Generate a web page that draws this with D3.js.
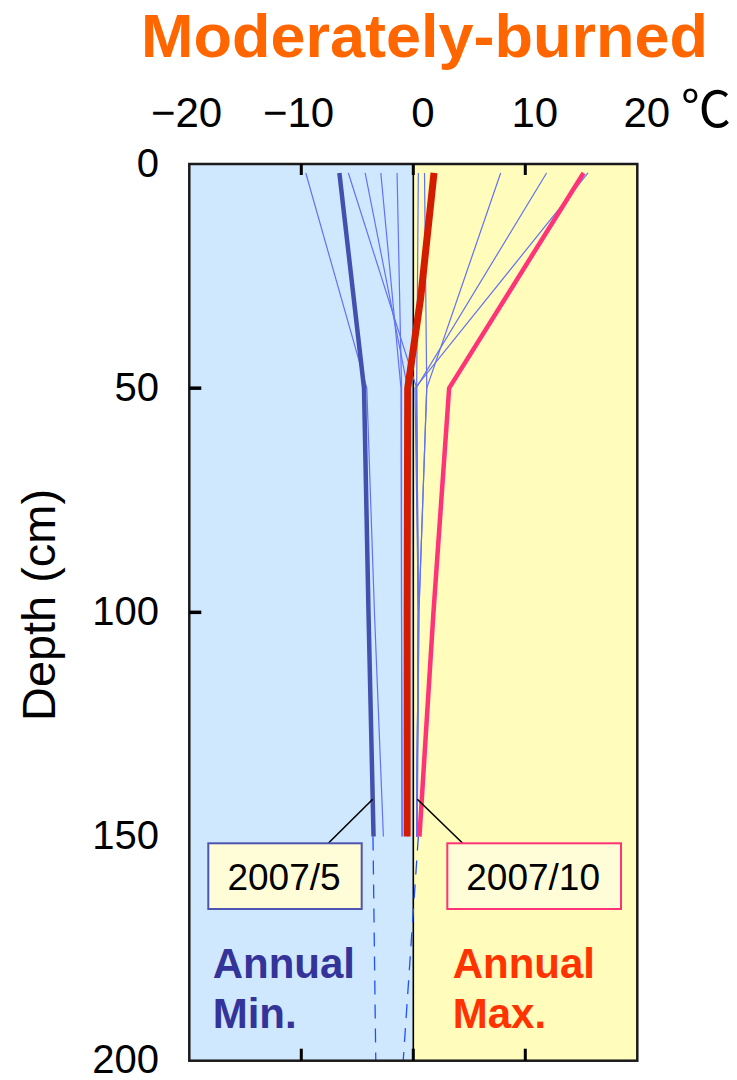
<!DOCTYPE html>
<html>
<head>
<meta charset="utf-8">
<script src="https://cdn.jsdelivr.net/npm/d3@7"></script>
<style>
  body { margin: 0; background: #fff; }
  svg { display: block; font-family: "Liberation Sans", Arial, sans-serif; }
</style>
</head>
<body>
<div id="chart"></div>
<script>
// monthly profiles (temperature °C at each depth)
const depths = [2, 50, 100, 150];
const monthlyTemps = [
  [-9.6, -4.15, -3.47, -2.67],
  [-5.8, 0.3, 0.45, 0.3],
  [-4.3, -0.5, -0.55, -0.5],
  [-2.9, -1.1, -1.05, -1.0],
  [-1.45, -1.05, -1.05, -1.0],
  [0.45, 0.3, 0.45, 0.3],
  [1.0, 1.2, 0.5, 0.3],
  [7.8, 1.2, 0.5, 0.35],
  [11.9, 0.25, 0.45, 0.3],
  [15.6, 0.15, 0.45, 0.3]
];

// annual min (2007/5)
const minDepths = [2, 50, 100, 150];
const minTemps = [-6.6, -4.4, -4.0, -3.55];
// annual max
const maxDepths = [2, 50, 100, 150];
const maxTemps = [15.2, 3.2, 1.8, 0.55];
// 2007/10
const octDepths = [2, 30, 50, 100, 150];
const octTemps = [1.85, 0.65, -0.5, -0.55, -0.55];

// extrapolated (dashed) below 150 cm
const extDepths = [150, 200];
const minExt = [-3.6, -3.35];
const maxExt = [0.45, -0.9];

const xTicks = [-20, -10, 0, 10, 20];
const yTicks = [0, 50, 100, 150, 200];
const innerXTicks = [-10, 0, 10];
const innerYTicks = [50, 100];

const W = 737, H = 1080;

const x = d3.scaleLinear().domain([-20, 20]).range([189.3, 637.3]);
const y = d3.scaleLinear().domain([0, 200]).range([164, 1060.7]);

const svg = d3.select("#chart").append("svg")
  .attr("width", W)
  .attr("height", H);

svg.append("defs").append("clipPath")
  .attr("id", "plotclip")
  .append("rect")
  .attr("x", x(-20)).attr("y", y(0))
  .attr("width", x(20) - x(-20)).attr("height", y(200) - y(0));

// backgrounds
svg.append("rect")
  .attr("x", x(-20)).attr("y", y(0))
  .attr("width", x(0) - x(-20)).attr("height", y(200) - y(0))
  .attr("fill", "#d0e8fe");
svg.append("rect")
  .attr("x", x(0)).attr("y", y(0))
  .attr("width", x(20) - x(0)).attr("height", y(200) - y(0))
  .attr("fill", "#fffcbc");

// zero line
svg.append("line")
  .attr("x1", x(0)).attr("x2", x(0))
  .attr("y1", y(0)).attr("y2", y(200))
  .attr("stroke", "#000")
  .attr("stroke-width", 1.6);

const plot = svg.append("g").attr("clip-path", "url(#plotclip)");

const line = d3.line()
  .x(d => x(d[1]))
  .y(d => y(d[0]));

const pairs = (ds, ts) => ds.map((d, i) => [d, ts[i]]);

// thin monthly lines
plot.selectAll(".month")
  .data(monthlyTemps)
  .join("path")
  .attr("class", "month")
  .attr("d", t => line(pairs(depths, t)))
  .attr("fill", "none")
  .attr("stroke", "#6272f6")
  .attr("stroke-width", 1.2);

// dashed extrapolations
[minExt, maxExt].forEach(t => {
  plot.append("path")
    .attr("d", line(pairs(extDepths, t)))
    .attr("fill", "none")
    .attr("stroke", "#2150ff")
    .attr("stroke-width", 1.3)
    .attr("stroke-dasharray", "14,10");
});

// thick lines
plot.append("path")
  .attr("d", line(pairs(minDepths, minTemps)))
  .attr("fill", "none")
  .attr("stroke", "#4450ae")
  .attr("stroke-width", 4.5);

plot.append("path")
  .attr("d", line(pairs(maxDepths, maxTemps)))
  .attr("fill", "none")
  .attr("stroke", "#ff3377")
  .attr("stroke-width", 4.5);

plot.append("path")
  .attr("d", line(pairs(octDepths, octTemps)))
  .attr("fill", "none")
  .attr("stroke", "#d41c00")
  .attr("stroke-width", 7);

// callouts
const boxes = [
  {label: "2007/5", x0: 208.3, x1: 361.7, stroke: "#4d55b0", lx: 328.3, tx: 372.7},
  {label: "2007/10", x0: 447.3, x1: 621, stroke: "#ff3377", lx: 462.7, tx: 417.3}
];
const boxTop = 843.3, boxBot = 909;

svg.selectAll(".leader")
  .data(boxes)
  .join("line")
  .attr("class", "leader")
  .attr("x1", d => d.lx).attr("y1", boxTop)
  .attr("x2", d => d.tx).attr("y2", 799.3)
  .attr("stroke", "#000")
  .attr("stroke-width", 1.6);

svg.selectAll(".box")
  .data(boxes)
  .join("rect")
  .attr("class", "box")
  .attr("x", d => d.x0).attr("y", boxTop)
  .attr("width", d => d.x1 - d.x0).attr("height", boxBot - boxTop)
  .attr("fill", "#fffdd8")
  .attr("stroke", d => d.stroke)
  .attr("stroke-width", 2);

svg.selectAll(".boxlabel")
  .data(boxes)
  .join("text")
  .attr("class", "boxlabel")
  .attr("x", d => (d.x0 + d.x1) / 2 - 1)
  .attr("y", 890)
  .attr("text-anchor", "middle")
  .attr("font-size", 37)
  .attr("fill", "#000")
  .text(d => d.label);

// Annual Min. / Max.
const notes = [
  {lines: ["Annual", "Min."], x: 212.7, color: "#333399"},
  {lines: ["Annual", "Max."], x: 452.7, color: "#ff3300"}
];
notes.forEach(n => {
  n.lines.forEach((s, i) => {
    svg.append("text")
      .attr("x", n.x)
      .attr("y", 978.3 + i * 50)
      .attr("font-size", 42)
      .attr("font-weight", "bold")
      .attr("fill", n.color)
      .text(s);
  });
});

// frame
svg.append("rect")
  .attr("x", x(-20)).attr("y", y(0))
  .attr("width", x(20) - x(-20)).attr("height", y(200) - y(0))
  .attr("fill", "none")
  .attr("stroke", "#1a1a1a")
  .attr("stroke-width", 2.5);

// inward ticks
svg.selectAll(".ttick")
  .data(innerXTicks)
  .join("line")
  .attr("x1", d => x(d)).attr("x2", d => x(d))
  .attr("y1", y(0)).attr("y2", y(0) + 11)
  .attr("stroke", "#000").attr("stroke-width", 3);
svg.selectAll(".btick")
  .data(innerXTicks)
  .join("line")
  .attr("x1", d => x(d)).attr("x2", d => x(d))
  .attr("y1", y(200)).attr("y2", y(200) - 12)
  .attr("stroke", "#000").attr("stroke-width", 3);
svg.selectAll(".ltick")
  .data(innerYTicks)
  .join("line")
  .attr("x1", x(-20)).attr("x2", x(-20) + 12)
  .attr("y1", d => y(d)).attr("y2", d => y(d))
  .attr("stroke", "#000").attr("stroke-width", 3.5);

// top axis labels
const fmt = d => d < 0 ? "\u2212" + Math.abs(d) : String(d);
const xAxis = svg.append("g")
  .attr("transform", "translate(0,126.7)")
  .call(d3.axisTop(x).tickValues(xTicks).tickSize(0).tickFormat(fmt));
xAxis.select(".domain").remove();
xAxis.selectAll("text")
  .attr("y", 0).attr("dy", 0)
  .attr("text-anchor", "end")
  .attr("x", d => 9 + String(Math.abs(d)).length * 0.556 * 42 / 2)
  .attr("font-size", 42)
  .attr("font-family", "Liberation Sans, Arial, sans-serif")
  .attr("fill", "#000");

svg.append("text")
  .attr("x", 681)
  .attr("y", 127)
  .attr("font-size", 50)
  .attr("font-family", "Noto Sans CJK JP, DejaVu Sans, sans-serif")
  .attr("fill", "#000")
  .text("\u2103");

// left axis labels
const yAxis = svg.append("g")
  .attr("transform", "translate(159,0)")
  .call(d3.axisLeft(y).tickValues(yTicks).tickSize(0).tickPadding(0));
yAxis.select(".domain").remove();
yAxis.selectAll("text")
  .attr("dy", "0.3em")
  .attr("font-size", 40)
  .attr("font-family", "Liberation Sans, Arial, sans-serif")
  .attr("fill", "#000");

svg.append("text")
  .attr("transform", "translate(55,605) rotate(-90)")
  .attr("text-anchor", "middle")
  .attr("font-size", 46)
  .attr("textLength", 232)
  .attr("lengthAdjust", "spacingAndGlyphs")
  .attr("fill", "#000")
  .text("Depth (cm)");

// title
svg.append("text")
  .attr("x", 141)
  .attr("y", 57.3)
  .attr("font-size", 62)
  .attr("font-weight", "bold")
  .attr("textLength", 567)
  .attr("lengthAdjust", "spacingAndGlyphs")
  .attr("fill", "#ff6600")
  .text("Moderately-burned");
</script>
</body>
</html>
